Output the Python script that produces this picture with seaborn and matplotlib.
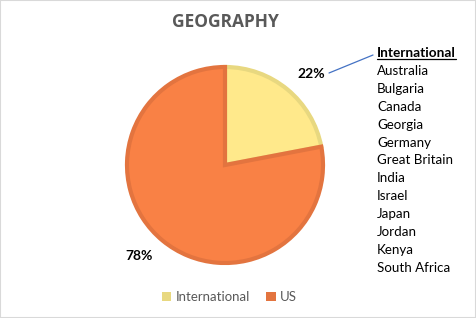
import matplotlib
matplotlib.use("Agg")
import numpy as np
import matplotlib.pyplot as plt
import seaborn as sns
from matplotlib.lines import Line2D
from matplotlib.patches import Rectangle, Patch

categories = ["International", "US"]
shares = [22, 78]
countries = ["Australia", "Bulgaria", "Canada", "Georgia", "Germany", "Great Britain",
             "India", "Israel", "Japan", "Jordan", "Kenya", "South Africa"]
list_header = "International"
title = "GEOGRAPHY"

fills = ["#FFE98B", "#F98145"]
edges = ["#E8D880", "#E3743F"]

sns.set_theme(style="white")
plt.rcParams["font.family"] = ["Lato", "DejaVu Sans"]

W, H = 476, 318
fig = plt.figure(figsize=(W / 100, H / 100), dpi=100)

def fx(px):
    return px / W

def fy(py):
    return 1 - py / H

cx, cy, r = 225, 165, 98
ax = fig.add_axes([fx(cx - r), fy(cy + r), 2 * r / W, 2 * r / H])
wedges, texts, autotexts = ax.pie(
    shares, colors=fills, startangle=90, counterclock=False,
    autopct="%1.0f%%", pctdistance=1.28,
    wedgeprops=dict(linewidth=3, joinstyle="miter"),
    textprops=dict(fontsize=10, fontweight="bold", color="black"))
for w, e, t in zip(wedges, edges, autotexts):
    w.set_edgecolor(e)
    mid = np.deg2rad((w.theta1 + w.theta2) / 2 - 3.6)
    t.set_position((1.28 * np.cos(mid), 1.28 * np.sin(mid)))
ax.set_xlim(-1, 1)
ax.set_ylim(-1, 1)
ax.set_aspect("equal")
ax.axis("off")

fig.text(fx(cx), fy(22), title, ha="center", va="center", fontsize=12.5,
         fontweight="bold", color="#595959", family=["Open Sans", "DejaVu Sans"])

# country list
x0 = fx(377)
step = 17.9
hdr = fig.text(x0, fy(53), list_header, ha="left", va="center", fontsize=9.8,
               fontweight="bold", color="black")
for i, c in enumerate(countries):
    fig.text(x0, fy(53 + step * (i + 1)), c, ha="left", va="center",
             fontsize=9.6, color="black")

fig.canvas.draw()
bb = hdr.get_window_extent()
uy = bb.y0 + 0.5
fig.add_artist(Line2D([bb.x0 / W, bb.x1 / W], [uy / H, uy / H], color="black",
                      linewidth=0.9))

# leader line
fig.add_artist(Line2D([fx(329), fx(373)], [fy(73), fy(55)], color="#4472C4",
                      linewidth=0.9))

handles = [Patch(facecolor=e, edgecolor="none") for e in edges]
leg = fig.legend(handles, categories, loc="center", bbox_to_anchor=(fx(229), fy(297)),
                 ncol=2, frameon=False, fontsize=9.5, handlelength=0.75,
                 handleheight=0.75, handletextpad=0.3, columnspacing=1.2)
for t in leg.get_texts():
    t.set_color("#595959")

fig.add_artist(Rectangle((0, 0), 1, 1, transform=fig.transFigure, fill=False,
                         edgecolor="#D9D9D9", linewidth=1.5))

fig.savefig("out.png", dpi=100)
